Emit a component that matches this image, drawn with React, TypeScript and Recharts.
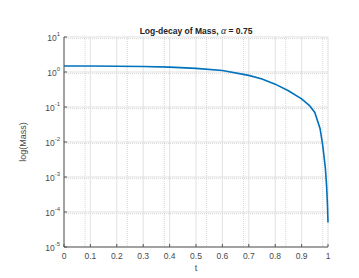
import { LineChart, Line, XAxis, YAxis, CartesianGrid, Label } from "recharts";

// sampled off the curve, denser near t = 1 where it drops fast
const tValues = [0, 0.1, 0.2, 0.3, 0.4, 0.5, 0.6, 0.7, 0.75, 0.8, 0.85, 0.9, 0.93, 0.95, 0.97, 0.98, 0.99, 0.995, 0.998, 1];
const massValues = [1.48, 1.48, 1.46, 1.43, 1.38, 1.27, 1.1, 0.8, 0.63, 0.45, 0.29, 0.17, 0.11, 0.07, 0.024, 0.008, 0.0018, 0.0005, 0.00016, 0.00005];

const xTicks = [0, 0.1, 0.2, 0.3, 0.4, 0.5, 0.6, 0.7, 0.8, 0.9, 1];
const yTicks = [1e-5, 1e-4, 1e-3, 1e-2, 1e-1, 1, 10];

const data = tValues.map((t, i) => ({ t, mass: massValues[i] }));

// minor grid positions
const xMinor: number[] = [];
for (let i = 1; i < 50; i++) if (i % 5 !== 0) xMinor.push(i / 50);
const yMinor: number[] = [];
for (let e = -5; e < 1; e++) for (let m = 2; m < 10; m++) yMinor.push(m * Math.pow(10, e));

const FONT = "'Liberation Sans', Arial, sans-serif";
const TEXT = "#4a4a4a";
const FRAME = "#555";

const LogTick = ({ x, y, payload }: any) => {
  const exp = Math.round(Math.log10(payload.value));
  return (
    <text x={x - 1} y={y} textAnchor="end" fill={TEXT} fontSize={8.5} fontFamily={FONT}>
      <tspan dy={4}>10</tspan>
      <tspan dy={-5} fontSize={6}>{exp}</tspan>
    </text>
  );
};

const NoTick = () => <g />;

export default function App() {
  return (
    <div style={{ position: "absolute", left: 0, top: 0, width: 359, height: 278, background: "#fff" }}>
      <div
        style={{
          position: "absolute",
          left: 64,
          width: 264,
          top: 25,
          textAlign: "center",
          fontFamily: FONT,
          fontWeight: "bold",
          fontSize: 8.5,
          color: "#222",
          whiteSpace: "nowrap",
        }}
      >
        Log-decay of Mass, <span style={{ fontFamily: "'Liberation Serif', serif", fontStyle: "italic", fontWeight: "normal", fontSize: 10 }}>α</span> = 0.75
      </div>
      <LineChart width={359} height={278} data={data} margin={{ top: 37, right: 31, bottom: 11, left: 14 }}>
        <CartesianGrid
          horizontalValues={yMinor}
          verticalValues={xMinor}
          stroke="#bdbdbd"
          strokeDasharray="1 1"
          strokeWidth={0.6}
        />
        <CartesianGrid horizontalValues={yTicks} verticalValues={xTicks} stroke="#dedede" strokeWidth={0.9} />
        <XAxis
          dataKey="t"
          type="number"
          domain={[0, 1]}
          ticks={xTicks}
          height={20}
          axisLine={{ stroke: FRAME }}
          tickLine={{ stroke: FRAME }}
          tickSize={-3}
          tickMargin={9}
          tick={{ fill: TEXT, fontSize: 8.5, fontFamily: FONT }}
        >
          <Label value="t" position="bottom" offset={-2} fill={TEXT} fontSize={9} fontFamily={FONT} />
        </XAxis>
        <XAxis
          xAxisId="top"
          orientation="top"
          type="number"
          domain={[0, 1]}
          ticks={xTicks}
          height={0}
          tick={<NoTick />}
          tickSize={-3}
          tickLine={{ stroke: FRAME }}
          axisLine={{ stroke: FRAME }}
        />
        <YAxis
          type="number"
          scale="log"
          domain={[1e-5, 10]}
          ticks={yTicks}
          allowDataOverflow
          width={50}
          axisLine={{ stroke: FRAME }}
          tickLine={{ stroke: FRAME }}
          tickSize={-3}
          tickMargin={6}
          tick={<LogTick />}
        >
          <Label value="log(Mass)" angle={-90} position="insideLeft" offset={9} fill={TEXT} fontSize={9} fontFamily={FONT} style={{ textAnchor: "middle" }} />
        </YAxis>
        <YAxis
          yAxisId="right"
          orientation="right"
          scale="log"
          domain={[1e-5, 10]}
          ticks={yTicks}
          allowDataOverflow
          width={0}
          tick={<NoTick />}
          tickSize={-3}
          tickLine={{ stroke: FRAME }}
          axisLine={{ stroke: FRAME }}
        />
        <Line type="linear" dataKey="mass" stroke="#0072BD" strokeWidth={1.6} dot={false} isAnimationActive={false} />
      </LineChart>
    </div>
  );
}
